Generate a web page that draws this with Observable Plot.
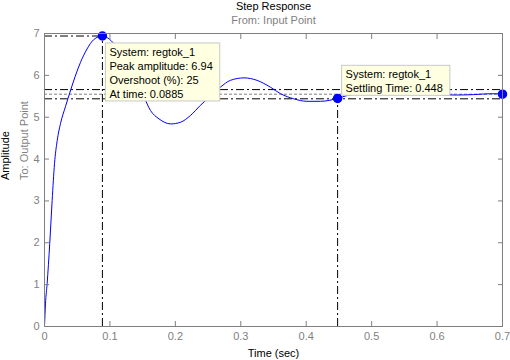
<!DOCTYPE html>
<html><head><meta charset="utf-8">
<script src="https://cdn.jsdelivr.net/npm/d3@7"></script>
<script src="https://cdn.jsdelivr.net/npm/@observablehq/plot@0.6"></script>
<style>body{margin:0;background:#fff} svg{display:block}</style>
</head><body><div id="chart"></div>
<script>
// ---- data ----
const time = [0, 0.0015, 0.004, 0.008, 0.0117, 0.0153, 0.0194, 0.0245, 0.032, 0.040, 0.047, 0.055, 0.065, 0.075, 0.0885, 0.0995, 0.11, 0.12, 0.13, 0.14, 0.152, 0.162, 0.175, 0.193, 0.208, 0.223, 0.238, 0.249, 0.269, 0.284, 0.305, 0.325, 0.345, 0.361, 0.381, 0.401, 0.422, 0.448, 0.463, 0.48, 0.50, 0.53, 0.56, 0.60, 0.63, 0.656, 0.68, 0.70];
const amplitude = [0, 0.54, 1.02, 1.98, 3.01, 3.89, 4.44, 4.85, 5.25, 5.65, 5.98, 6.31, 6.63, 6.85, 6.94, 6.86, 6.68, 6.42, 6.12, 5.80, 5.48, 5.16, 4.96, 4.84, 4.88, 5.04, 5.28, 5.44, 5.72, 5.88, 5.94, 5.88, 5.72, 5.56, 5.44, 5.38, 5.38, 5.45, 5.52, 5.56, 5.58, 5.58, 5.57, 5.54, 5.53, 5.54, 5.56, 5.56];
const xTicks = [0, 0.1, 0.2, 0.3, 0.4, 0.5, 0.6, 0.7];
const yTicks = [0, 1, 2, 3, 4, 5, 6, 7];
const peakTime = 0.0885, peakAmp = 6.94, overshoot = 25;
const settleTime = 0.448, settleAmp = 5.45;
const endTime = 0.7, finalValue = 5.55;
const bandHigh = 5.66, bandLow = 5.44;
const systemName = "regtok_1";
const titleText = "Step Response";
const subtitleText = "From: Input Point";
const xLabelText = "Time (sec)";
const yLabelText = "Amplitude";
const yLabel2Text = "To: Output Point";

const curve = time.map((t, i) => ({t, v: amplitude[i]}));
const peak = {t: peakTime, v: peakAmp};
const settle = {t: settleTime, v: settleAmp};
const endPt = {t: endTime, v: finalValue};
const tip1 = {...peak, text: [`System: ${systemName}`, `Peak amplitude: ${peakAmp}`, `Overshoot (%): ${overshoot}`, `At time: ${peakTime}`].join("\n")};
const tip2 = {...settle, text: [`System: ${systemName}`, `Settling Time: ${settleTime}`].join("\n")};

const gray = "#7f7f7f";
const dashDot = "8,3,2,3";
const FONT = "Liberation Sans, Arial, sans-serif";

const svg = Plot.plot({
  width: 510, height: 360,
  marginLeft: 44, marginRight: 8, marginTop: 33, marginBottom: 34,
  style: {fontFamily: FONT, fontSize: "11px", background: "white", overflow: "visible"},
  x: {domain: [0, 0.7], label: null},
  y: {domain: [0, 7], label: null},
  marks: [
    Plot.ruleY([bandHigh, bandLow], {stroke: "black", strokeDasharray: dashDot}),
    Plot.ruleY([finalValue], {stroke: gray, strokeDasharray: "3,2"}),
    Plot.ruleY([peak], {y: "v", x1: () => 0, x2: "t", stroke: "black", strokeDasharray: dashDot}),
    Plot.ruleX([peak], {x: "t", y1: () => 0, y2: "v", stroke: "black", strokeDasharray: dashDot}),
    Plot.ruleX([settle], {x: "t", y1: () => 0, y2: "v", stroke: "black", strokeDasharray: dashDot}),
    Plot.line(curve, {x: "t", y: "v", stroke: "#0000ff", strokeWidth: 1, curve: "monotone-x"}),
    Plot.dot([peak, settle, endPt], {x: "t", y: "v", r: 4, fill: "#0000ff", stroke: "#0000ff"}),
    Plot.frame({stroke: gray}),
    Plot.axisX({anchor: "bottom", ticks: xTicks, tickSize: -5, tickFormat: () => "", stroke: gray, label: null}),
    Plot.axisX({anchor: "top", ticks: xTicks, tickSize: -5, tickFormat: () => "", stroke: gray, label: null}),
    Plot.axisY({anchor: "left", ticks: yTicks, tickSize: -5, tickFormat: () => "", stroke: gray, label: null}),
    Plot.axisY({anchor: "right", ticks: yTicks, tickSize: -5, tickFormat: () => "", stroke: gray, label: null}),
    Plot.axisX({anchor: "bottom", ticks: xTicks, tickSize: 0, tickPadding: 6, tickFormat: d => String(d), fill: gray, label: null}),
    Plot.axisY({anchor: "left", ticks: yTicks, tickSize: 0, tickPadding: 5, tickFormat: d => String(d), fill: gray, label: null}),
    Plot.text([titleText], {text: d => d, frameAnchor: "top", lineAnchor: "middle", dy: -27.5, fill: "black"}),
    Plot.text([subtitleText], {text: d => d, frameAnchor: "top", lineAnchor: "middle", dy: -13.5, fill: gray}),
    Plot.text([xLabelText], {text: d => d, frameAnchor: "bottom", lineAnchor: "middle", dy: 26.5, fill: "black"}),
    Plot.text([yLabelText], {text: d => d, frameAnchor: "left", lineAnchor: "middle", rotate: -90, dx: -39.5, fill: "black"}),
    Plot.text([yLabel2Text], {text: d => d, frameAnchor: "left", lineAnchor: "middle", rotate: -90, dx: -20.5, fill: gray}),
    Plot.text([tip1], {x: "t", y: "v", text: "text", textAnchor: "start", lineAnchor: "top", lineHeight: 14 / 11, dx: 7, dy: 10, fill: "black"}),
    Plot.text([tip2], {x: "t", y: "v", text: "text", textAnchor: "start", lineAnchor: "top", lineHeight: 14 / 11, dx: 8, dy: -30, fill: "black"})
  ]
});
document.getElementById("chart").append(svg);

// data-tip backgrounds behind the tip texts
d3.select(svg).selectAll("text")
  .filter(function() { return this.textContent.startsWith("System:"); })
  .each(function() {
    const b = this.getBBox();
    const r = document.createElementNS("http://www.w3.org/2000/svg", "rect");
    r.setAttribute("x", b.x - 4);
    r.setAttribute("y", b.y - 3);
    r.setAttribute("width", b.width + 11);
    r.setAttribute("height", b.height + 4);
    r.setAttribute("fill", "#ffffe1");
    r.setAttribute("stroke", "#c8c8c8");
    const tr = this.getAttribute("transform");
    if (tr) r.setAttribute("transform", tr);
    this.parentNode.insertBefore(r, this);
  });
</script>
</body></html>
